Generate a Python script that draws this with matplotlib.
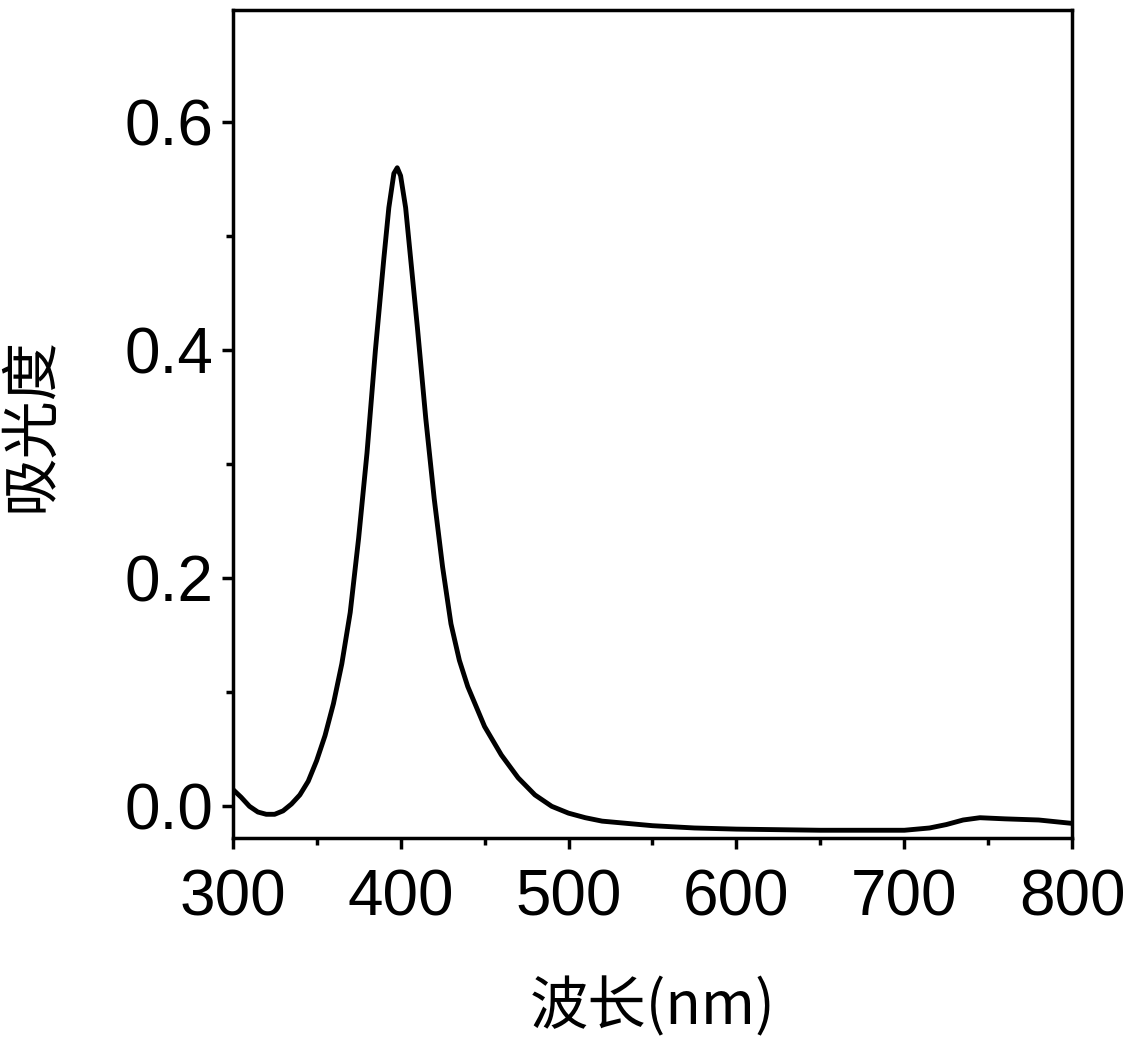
import matplotlib
matplotlib.use("Agg")
import matplotlib.pyplot as plt
from matplotlib.ticker import MultipleLocator

# absorbance spectrum
wavelength = [300, 305, 310, 315, 320, 325, 330, 335, 340, 345, 350, 355, 360, 365, 370, 375,
              380, 385, 390, 393, 396, 398, 400, 403, 406, 410, 415, 420, 425, 430, 435, 440,
              450, 460, 470, 480, 490, 500, 510, 520, 535, 550, 575, 600, 650, 700, 715, 725,
              735, 745, 760, 780, 800]
absorbance = [0.015, 0.008, 0.0, -0.005, -0.007, -0.007, -0.004, 0.002, 0.01, 0.022, 0.04, 0.062,
              0.09, 0.125, 0.17, 0.235, 0.31, 0.40, 0.48, 0.525, 0.555, 0.56, 0.553, 0.525,
              0.48, 0.42, 0.34, 0.27, 0.21, 0.16, 0.128, 0.105, 0.07, 0.045, 0.025, 0.01,
              0.0, -0.006, -0.010, -0.013, -0.015, -0.017, -0.019, -0.020, -0.021, -0.021,
              -0.019, -0.016, -0.012, -0.010, -0.011, -0.012, -0.015]

plt.rcParams['font.family'] = ['Liberation Sans', 'Noto Sans CJK SC']

fig = plt.figure(figsize=(11.24, 10.40), dpi=100)
ax = fig.add_axes([0.207, 0.194, 0.747, 0.796])
ax.plot(wavelength, absorbance, color='black', linewidth=3.5)

ax.set_xlim(300, 800)
ax.set_ylim(-0.028, 0.698)
ax.xaxis.set_major_locator(MultipleLocator(100))
ax.xaxis.set_minor_locator(MultipleLocator(50))
ax.yaxis.set_major_locator(MultipleLocator(0.2))
ax.yaxis.set_minor_locator(MultipleLocator(0.1))
ax.tick_params(which='major', direction='out', length=8, width=2.5, labelsize=46)
ax.tick_params(axis='x', which='major', pad=14)
ax.tick_params(axis='y', which='major', pad=6)
ax.tick_params(which='minor', direction='out', length=5, width=2.5)
for s in ax.spines.values():
    s.set_linewidth(2.5)

ax.set_xlabel('波长(nm)', fontsize=42, family=['Noto Sans CJK SC', 'Liberation Sans'], labelpad=35)
ax.set_ylabel('吸光度', fontsize=42, family=['Noto Sans CJK SC'], labelpad=45)

fig.savefig('out.png', dpi=100)
